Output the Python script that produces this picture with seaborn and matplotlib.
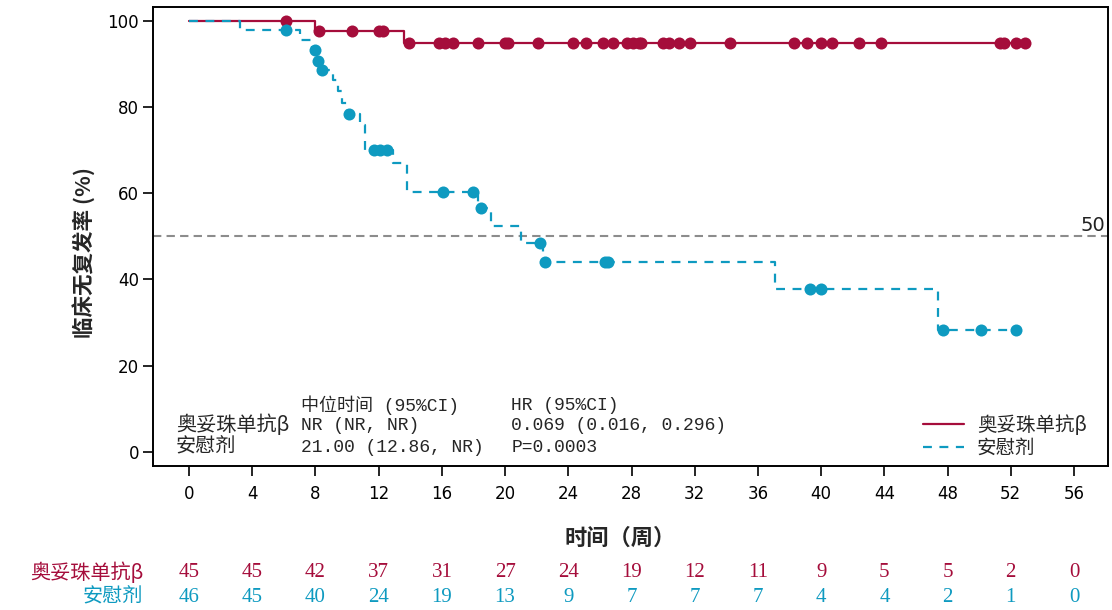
import numpy as np
import pandas as pd
import matplotlib
matplotlib.use('Agg')
import matplotlib.pyplot as plt
import matplotlib.transforms as mtransforms
from matplotlib.lines import Line2D
import seaborn as sns

# ---- data ----
arm_names = ["奥妥珠单抗β", "安慰剂"]

red_event_t = [0, 8.0, 13.6]
red_surv = [100, 97.7, 94.9]
red_censor = [6.15, 8.2, 10.3, 12.0, 12.3, 13.9, 15.8, 16.2, 16.7, 18.3, 20.0, 20.2,
              22.1, 24.3, 25.1, 26.2, 26.8, 27.7, 28.1, 28.5, 28.6, 30.0, 30.4, 31.0,
              31.7, 34.2, 38.3, 39.1, 40.0, 40.7, 42.4, 43.8, 51.3, 51.6, 52.3, 52.9]

blue_event_t = [0, 3.2, 7.0, 7.8, 8.05, 8.3, 9.1, 9.4, 9.7, 10.0, 10.8, 11.15,
                12.9, 13.8, 18.3, 19.1, 21.0, 22.4, 37.1, 47.4]
blue_surv = [100, 97.8, 95.5, 93.3, 90.7, 88.6, 86.2, 83.6, 81.0, 78.4, 75.8, 69.9,
             67.0, 60.3, 56.5, 52.4, 48.4, 44.0, 37.7, 28.3]
blue_censor = [6.15, 8.0, 8.15, 8.4, 10.1, 11.7, 12.1, 12.5, 16.1, 18.0, 18.5, 22.2,
               22.5, 26.3, 26.5, 39.3, 40.0, 47.7, 50.1, 52.3]

risk_weeks = list(range(0, 57, 4))
red_at_risk = [45, 45, 42, 37, 31, 27, 24, 19, 12, 11, 9, 5, 5, 2, 0]
blue_at_risk = [46, 45, 40, 24, 19, 13, 9, 7, 7, 7, 4, 4, 2, 1, 0]

stats_header = ["中位时间 (95%CI)", "HR (95%CI)"]
stats_red = ["NR (NR, NR)", "0.069 (0.016, 0.296)"]
stats_blue = ["21.00 (12.86, NR)", "P=0.0003"]

RED = "#A50D3B"
BLUE = "#0E9AC0"
CJK = ["Noto Sans CJK SC", "DejaVu Sans"]
MONO = ["Liberation Mono", "Noto Sans CJK SC"]


def step_frame(times, surv, censor):
    end = max(max(censor), times[-1])
    return pd.DataFrame({"time": list(times) + [end],
                         "surv": list(surv) + [surv[-1]]})


def censor_frame(times, surv, censor):
    idx = np.searchsorted(times, censor, side="right") - 1
    return pd.DataFrame({"time": censor, "surv": np.asarray(surv)[idx]})


sns.set_theme(style="ticks")
plt.rcParams["font.family"] = ["DejaVu Sans", "Noto Sans CJK SC"]

fig = plt.figure(figsize=(11.12, 6.10), dpi=100)
ax = fig.add_axes([0.1376, 0.2361, 0.8588, 0.7525])

red_line = step_frame(red_event_t, red_surv, red_censor)
blue_line = step_frame(blue_event_t, blue_surv, blue_censor)

sns.lineplot(data=red_line, x="time", y="surv", drawstyle="steps-post", color=RED,
             lw=1.6, estimator=None, sort=False, ax=ax)
sns.scatterplot(data=censor_frame(red_event_t, red_surv, red_censor), x="time", y="surv",
                color=RED, s=75, linewidth=0, zorder=3, ax=ax)
sns.lineplot(data=blue_line, x="time", y="surv", drawstyle="steps-post", color=BLUE,
             lw=1.6, estimator=None, sort=False, ax=ax)
ax.lines[-1].set_linestyle((0, (4, 3.4)))
sns.scatterplot(data=censor_frame(blue_event_t, blue_surv, blue_censor), x="time", y="surv",
                color=BLUE, s=75, linewidth=0, zorder=3, ax=ax)

ax.axhline(50, color="#8C8C8C", lw=1.5, ls=(0, (4, 2.5)), zorder=1)
ax.text(57.95, 50.4, "50", ha="right", va="bottom", fontsize=14, color="#222222")

ax.set_xlim(-2.28, 58.15)
ax.set_ylim(-3.3, 103.2)
ax.set_xticks(risk_weeks)
ax.set_yticks(range(0, 101, 20))
ax.tick_params(axis="both", direction="out", length=7, width=1.2, colors="black",
               labelsize=12)
ax.tick_params(axis="y", pad=3)
ax.tick_params(axis="x", pad=7)
for sp in ax.spines.values():
    sp.set_color("black")
    sp.set_linewidth(1.4)

ax.set_xlabel("时间（周）", family=CJK, fontsize=16, fontweight="bold")
ax.xaxis.set_label_coords(0.489, -0.133)
ax.set_ylabel("临床无复发率 (%)", family=CJK, fontsize=15.5, fontweight="bold")
ax.yaxis.set_label_coords(-0.061, 0.464)

# summary statistics block
row_y = [10.8, 6.2, 1.1]
txt = dict(family=MONO, fontsize=13, va="center")
ax.text(7.1, row_y[0], stats_header[0], **txt)
ax.text(20.4, row_y[0], stats_header[1], **txt)
ax.text(-0.82, row_y[1], arm_names[0], family=CJK, fontsize=14.5, va="center")
ax.text(7.1, row_y[1], stats_red[0], **txt)
ax.text(20.4, row_y[1], stats_red[1], **txt)
ax.text(-0.82, row_y[2], arm_names[1], family=CJK, fontsize=14.5, va="center")
ax.text(7.1, row_y[2], stats_blue[0], **txt)
ax.text(20.4, row_y[2], stats_blue[1], **txt)

handles = [Line2D([], [], color=RED, lw=1.6),
           Line2D([], [], color=BLUE, lw=1.6, ls=(0, (4, 3.4)))]
ax.legend(handles, arm_names, loc="lower right", bbox_to_anchor=(0.996, -0.022),
          frameon=False, prop={"family": CJK, "size": 14}, handlelength=2.1,
          handletextpad=0.65, labelspacing=0.1)

# numbers at risk
trans = mtransforms.blended_transform_factory(ax.transData, fig.transFigure)
for wk, r, b in zip(risk_weeks, red_at_risk, blue_at_risk):
    ax.text(wk, 0.0607, str(r), transform=trans, ha="center", va="center",
            fontsize=15, family="Liberation Serif", color=RED)
    ax.text(wk, 0.0213, str(b), transform=trans, ha="center", va="center",
            fontsize=15, family="Liberation Serif", color=BLUE)
fig.text(0.129, 0.0607, arm_names[0], ha="right", va="center", family=CJK,
         fontsize=14.5, color=RED)
fig.text(0.129, 0.0213, arm_names[1], ha="right", va="center", family=CJK,
         fontsize=14.5, color=BLUE)

fig.savefig("out.png", dpi=100)
